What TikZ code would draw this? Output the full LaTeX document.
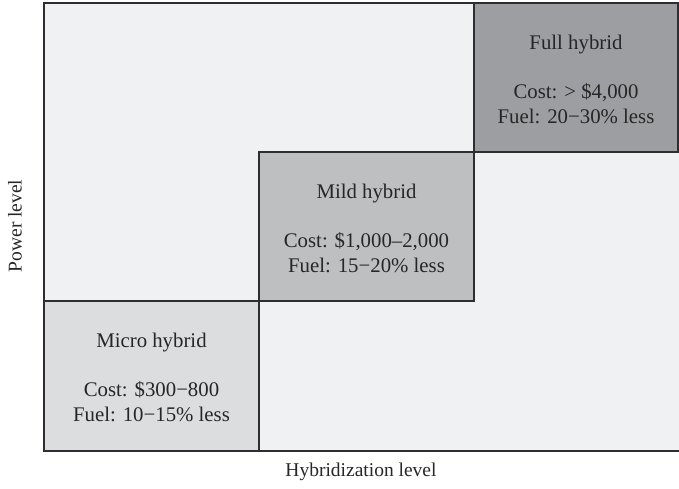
\documentclass[tikz,border=0pt]{standalone}
\usepackage{fontspec}
\setmainfont{Liberation Serif}
\definecolor{bgc}{HTML}{F0F1F3}
\definecolor{microc}{HTML}{DCDDDF}
\definecolor{mildc}{HTML}{BEBFC1}
\definecolor{fullc}{HTML}{9D9EA2}
\definecolor{linec}{HTML}{2E2E30}
\begin{document}
\begin{tikzpicture}[x=1pt,y=-1pt,
  zone/.style={draw=linec,line width=1.9pt},
  lbl/.style={align=center,font=\fontsize{20.8}{25}\selectfont,text=black!85},
  axis/.style={font=\fontsize{19.5}{23}\selectfont,text=black!85}]
\useasboundingbox (0,0) rectangle (679,489);
\draw[zone,fill=bgc] (44,3) rectangle (684,451);
\draw[zone,fill=microc] (44,301) rectangle (259,451);
\draw[zone,fill=mildc] (259,152) rectangle (474,301);
\draw[zone,fill=fullc] (474,3) rectangle (678,152);
\node[lbl] (micro) at (151.5,377) {Micro hybrid\\[24pt]Cost: \$300−800\\Fuel: 10−15\% less};
\node[lbl] (mild) at (366.5,228) {Mild hybrid\\[24pt]Cost: \$1,000–2,000\\Fuel: 15−20\% less};
\node[lbl] (full) at (576,79) {Full hybrid\\[24pt]Cost: > \$4,000\\Fuel: 20−30\% less};
\node[axis,rotate=90] (ylab) at (15,226) {Power level};
\node[axis] (xlab) at (361,472) {Hybridization level};
\end{tikzpicture}
\end{document}
